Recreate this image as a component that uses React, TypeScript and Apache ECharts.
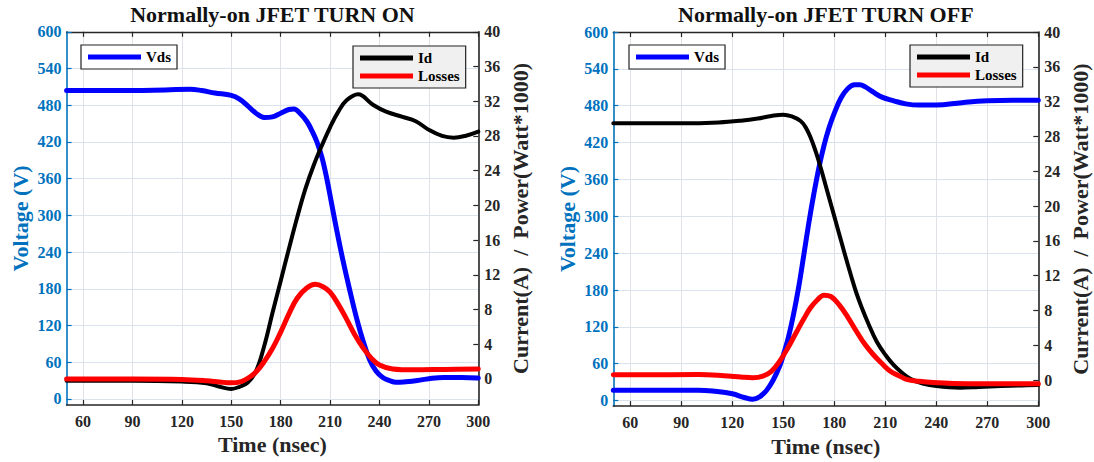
import React, { useEffect, useRef } from 'react';
import * as echarts from 'echarts';

// ---------- tick values ----------
const TIME_TICKS = [60, 90, 120, 150, 180, 210, 240, 270, 300];
const VOLT_TICKS = [0, 60, 120, 180, 240, 300, 360, 420, 480, 540, 600];
const CURR_TICKS = [0, 4, 8, 12, 16, 20, 24, 28, 32, 36, 40];

// ---------- TURN ON ----------
const onVdsTime = [50, 80, 110, 125, 132, 140, 150, 155, 160, 165, 170, 175, 180, 185, 188, 192, 196, 199, 202, 205, 208, 211, 214, 218, 222, 226, 230, 234, 238, 242, 246, 250, 256, 263, 270, 279, 290, 300];
const onVds = [504, 504, 505, 506, 504, 500, 496, 490, 479, 467, 460, 461, 467, 473, 474, 466, 453, 438, 420, 395, 360, 318, 276, 224, 177, 133, 95, 64, 45, 35, 30, 27, 28, 30, 33, 35, 35, 34];

const onIdTime = [50, 90, 120, 135, 143, 150, 155, 160, 165, 170, 175, 180, 185, 190, 195, 200, 205, 210, 215, 220, 227, 236, 244, 254, 262, 270, 278, 285, 292, 300];
const onId = [-0.2, -0.2, -0.3, -0.5, -0.9, -1.15, -0.9, -0.4, 0.9, 3.8, 7.6, 11.3, 15.0, 18.6, 21.9, 24.6, 26.9, 29.0, 30.8, 32.1, 32.8, 31.6, 30.8, 30.2, 29.7, 28.7, 28.0, 27.8, 28.0, 28.5];

const onLossTime = [50, 90, 120, 135, 143, 150, 156, 161, 165, 170, 175, 180, 185, 190, 196, 201, 206, 210, 215, 220, 225, 230, 235, 240, 248, 260, 280, 300];
const onLoss = [0.0, 0.0, -0.05, -0.2, -0.35, -0.45, -0.3, 0.2, 0.8, 2.0, 3.5, 5.4, 7.5, 9.3, 10.5, 10.9, 10.6, 10.0, 8.6, 6.9, 5.1, 3.6, 2.4, 1.6, 1.15, 1.05, 1.1, 1.15];

// ---------- TURN OFF ----------
const offVdsTime = [50, 80, 100, 110, 120, 127, 132, 136, 140, 144, 148, 150, 153, 156, 159, 162, 165, 168, 171, 174, 177, 180, 184, 188, 192, 195, 198, 203, 208, 215, 222, 230, 240, 255, 270, 285, 300];
const offVds = [17, 17, 17, 15, 11, 5, 2, 6, 16, 33, 57, 74, 103, 140, 184, 236, 289, 337, 380, 416, 445, 468, 493, 508, 514, 514, 511, 502, 494, 488, 483, 481, 481, 485, 488, 489, 489];

const offIdTime = [50, 90, 112, 125, 135, 143, 150, 155, 160, 163, 166, 169, 172, 175, 178, 181, 184, 187, 190, 193, 196, 200, 205, 210, 215, 220, 225, 232, 240, 254, 265, 278, 290, 300];
const offId = [29.5, 29.5, 29.6, 29.8, 30.05, 30.35, 30.5, 30.3, 29.8, 29.1, 27.9, 26.3, 24.4, 22.3, 20.2, 18.1, 16.0, 13.9, 11.9, 10.0, 8.4, 6.5, 4.4, 2.9, 1.7, 0.8, 0.1, -0.4, -0.7, -0.88, -0.8, -0.7, -0.62, -0.57];

const offLossTime = [50, 100, 115, 125, 132, 138, 143, 148, 153, 158, 162, 166, 170, 174, 178, 183, 188, 193, 198, 203, 208, 213, 218, 223, 230, 238, 250, 268, 300];
const offLoss = [0.6, 0.62, 0.5, 0.35, 0.26, 0.45, 1.0, 2.2, 3.8, 5.6, 7.0, 8.3, 9.2, 9.75, 9.6, 8.6, 7.2, 5.6, 4.1, 2.9, 1.9, 1.0, 0.5, 0.05, -0.15, -0.3, -0.4, -0.42, -0.42];

const TITLES = ['Normally-on JFET TURN ON', 'Normally-on JFET TURN OFF'];

const FONT = "'Liberation Serif', 'Times New Roman', serif";
const BLUE_AX = '#0072BD';
const DARK = '#262626';

const pair = (t: number[], v: number[]) => t.map((x, i) => [x, v[i]]);

export default function App() {
  const ref = useRef<HTMLDivElement>(null);

  useEffect(() => {
    if (!ref.current) return;
    const chart = echarts.init(ref.current, undefined, { renderer: 'svg' });

    const grids = [
      { left: 66.6, top: 31.8, width: 411.7, height: 373.2 },
      { left: 613.3, top: 32, width: 425, height: 375.3 },
    ];
    const vMin = [-10, -9];

    const xAxes: any[] = [];
    const yAxes: any[] = [];
    grids.forEach((g, gi) => {
      xAxes.push({
        type: 'value', gridIndex: gi, position: 'bottom', min: 50, max: 300,
        axisLine: { show: true, onZero: false, lineStyle: { color: DARK, width: 1.6 } },
        axisTick: { show: true, inside: true, length: 5, customValues: TIME_TICKS, lineStyle: { color: DARK, width: 1.2 } },
        axisLabel: { customValues: TIME_TICKS, color: DARK, fontFamily: FONT, fontWeight: 'bold', fontSize: 16, margin: 8 },
        splitLine: { show: true, lineStyle: { color: '#dfe3e8', width: 1 } },
        name: 'Time (nsec)', nameLocation: 'middle', nameGap: 26,
        nameTextStyle: { color: DARK, fontFamily: FONT, fontWeight: 'bold', fontSize: 22 },
      });
      xAxes.push({
        type: 'value', gridIndex: gi, position: 'top', min: 50, max: 300,
        axisLine: { show: true, onZero: false, lineStyle: { color: DARK, width: 1.4 } },
        axisTick: { show: true, inside: true, length: 5, customValues: TIME_TICKS, lineStyle: { color: DARK, width: 1.2 } },
        axisLabel: { show: false },
        splitLine: { show: false },
      });
      yAxes.push({
        type: 'value', gridIndex: gi, position: 'left', min: vMin[gi], max: 600,
        axisLine: { show: true, onZero: false, lineStyle: { color: BLUE_AX, width: 1.6 } },
        axisTick: { show: true, inside: true, length: 5, customValues: VOLT_TICKS, lineStyle: { color: BLUE_AX, width: 1.2 } },
        axisLabel: { customValues: VOLT_TICKS, color: BLUE_AX, fontFamily: FONT, fontWeight: 'bold', fontSize: 16, margin: 5 },
        splitLine: { show: true, lineStyle: { color: '#d8e3ee', width: 1 } },
        name: 'Voltage (V)', nameLocation: 'middle', nameRotate: 90, nameGap: 35,
        nameTextStyle: { color: BLUE_AX, fontFamily: FONT, fontWeight: 'bold', fontSize: 22 },
      });
      yAxes.push({
        type: 'value', gridIndex: gi, position: 'right', min: -3, max: 40,
        axisLine: { show: true, onZero: false, lineStyle: { color: DARK, width: 1.6 } },
        axisTick: { show: true, inside: true, length: 5, customValues: CURR_TICKS, lineStyle: { color: DARK, width: 1.2 } },
        axisLabel: { customValues: CURR_TICKS, color: DARK, fontFamily: FONT, fontWeight: 'bold', fontSize: 16, margin: 6 },
        splitLine: { show: false },
        name: 'Current(A)  /  Power(Watt*1000)', nameLocation: 'middle', nameRotate: 90, nameGap: 31,
        nameTextStyle: { color: DARK, fontFamily: FONT, fontWeight: 'bold', fontSize: 22 },
      });
    });

    const mk = (name: string, gi: number, yi: number, data: number[][], color: string, width: number, z: number) => ({
      type: 'line', name, xAxisIndex: gi * 2, yAxisIndex: gi * 2 + yi, data,
      smooth: 0.4, showSymbol: false, symbol: 'none',
      lineStyle: { color, width, cap: 'round', join: 'round' }, itemStyle: { color }, z,
    });

    const series = [
      mk('Vds', 0, 0, pair(onVdsTime, onVds), '#0000ff', 5, 2),
      mk('Id', 0, 1, pair(onIdTime, onId), '#000000', 4, 3),
      mk('Losses', 0, 1, pair(onLossTime, onLoss), '#ff0000', 5, 4),
      mk('Vds', 1, 0, pair(offVdsTime, offVds), '#0000ff', 5, 2),
      mk('Id', 1, 1, pair(offIdTime, offId), '#000000', 4, 3),
      mk('Losses', 1, 1, pair(offLossTime, offLoss), '#ff0000', 5, 4),
    ];

    const legendBase = {
      selectedMode: false, icon: 'rect', itemWidth: 53, itemHeight: 5,
      borderColor: '#222', borderWidth: 1.2, borderRadius: 0,
      padding: [3, 6, 3, 7], itemGap: 0,
      itemStyle: { borderWidth: 0 },
      textStyle: { color: '#000', fontFamily: FONT, fontWeight: 'bold', fontSize: 15, lineHeight: 18 },
    };
    const legends = [
      { ...legendBase, data: ['Vds'], left: 81, top: 45, orient: 'horizontal', backgroundColor: '#ffffff' },
      { ...legendBase, data: ['Id', 'Losses'], left: 353, top: 46, orient: 'vertical', backgroundColor: '#f0f0f0' },
      { ...legendBase, data: ['Vds'], left: 629, top: 45, orient: 'horizontal', backgroundColor: '#ffffff' },
      { ...legendBase, data: ['Id', 'Losses'], left: 910, top: 45, orient: 'vertical', backgroundColor: '#f0f0f0' },
    ];

    const titles = TITLES.map((t, i) => ({
      text: t,
      left: grids[i].left + grids[i].width / 2,
      textAlign: 'center',
      top: 3,
      padding: 0,
      textStyle: { color: '#111', fontFamily: FONT, fontWeight: 'bold', fontSize: 22 },
    }));

    chart.setOption({
      animation: false,
      backgroundColor: '#ffffff',
      title: titles,
      legend: legends,
      grid: grids,
      xAxis: xAxes,
      yAxis: yAxes,
      series,
    });

    return () => chart.dispose();
  }, []);

  return <div ref={ref} style={{ position: 'fixed', left: 0, top: 0, width: 1094, height: 462 }} />;
}
